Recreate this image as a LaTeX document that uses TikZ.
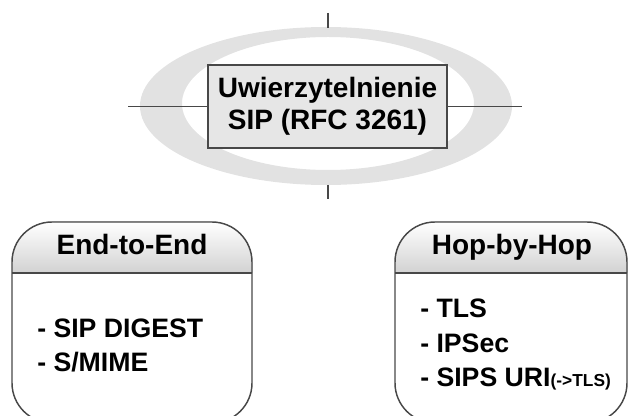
\documentclass[tikz,border=0pt]{standalone}
\usepackage{fontspec}
\setmainfont{Liberation Sans}
\usetikzlibrary{positioning}
\definecolor{ringgray}{HTML}{E2E2E2}
\definecolor{boxgray}{HTML}{E6E6E6}
\definecolor{edgegray}{HTML}{484848}
\definecolor{headgray}{HTML}{D2D2D2}
\tikzset{
  kern/.style={draw=edgegray,fill=boxgray,line width=1.1pt,inner sep=0pt,
    minimum width=179pt,minimum height=62pt,align=center,
    font=\fontsize{21}{24}\selectfont\bfseries},
  lane/.style={draw=edgegray,line width=1.1pt,rounded corners=30pt},
  lanehead/.style={font=\fontsize{21}{24}\selectfont\bfseries,inner sep=0pt,anchor=base},
  item/.style={font=\fontsize{20}{24}\selectfont\bfseries,inner sep=0pt,anchor=base west},
  wire/.style={draw=edgegray,line width=0.8pt}
}

\begin{document}
\begin{tikzpicture}[x=0.75pt,y=-0.75pt]
  \useasboundingbox (0,0) rectangle (628,416);

  % ring behind the title
  \fill[ringgray,even odd rule] (326,106) ellipse [x radius=186,y radius=79]
                                (328,103.5) ellipse [x radius=146,y radius=66.5];

  % title box and its cross
  \node[kern] (auth) at (327.5,106.5) {Uwierzytelnienie\\SIP (RFC 3261)};
  \coordinate (wl) at (128,106.5);
  \coordinate (wr) at (522,106.5);
  \coordinate (tt) at (328,13);
  \coordinate (tb) at (328,28);
  \coordinate (bt) at (328,185);
  \coordinate (bb) at (328,199);
  \draw[wire] (wl) -- (auth.west);
  \draw[wire] (auth.east) -- (wr);
  \draw[wire] (tt) -- (tb);
  \draw[wire] (bt) -- (bb);

  % end-to-end
  \fill[top color=white,bottom color=headgray] (12,273) [rounded corners=30pt]-- (12,222) -- (252,222) [sharp corners]-- (252,273) -- cycle;
  \draw[lane] (12,222) rectangle (252,423);
  \draw[edgegray,line width=2pt] (12,273) -- (252,273);
  \node[lanehead] (e2e) at (132,255) {End-to-End};
  \node[item] (digest) at (37,338) {- SIP DIGEST};
  \node[item] (smime) at (37,372) {- S/MIME};

  % hop-by-hop
  \fill[top color=white,bottom color=headgray] (395,273) [rounded corners=30pt]-- (395,222) -- (627,222) [sharp corners]-- (627,273) -- cycle;
  \draw[lane] (395,222) rectangle (627,423);
  \draw[edgegray,line width=2pt] (395,273) -- (627,273);
  \node[lanehead] (h2h) at (512,255) {Hop-by-Hop};
  \node[item] (tls) at (420,318) {- TLS};
  \node[item] (ipsec) at (420,353) {- IPSec};
  \node[item] (sips) at (420,387) {- SIPS URI{\fontsize{13}{15}\selectfont(->TLS)}};
\end{tikzpicture}
\end{document}
